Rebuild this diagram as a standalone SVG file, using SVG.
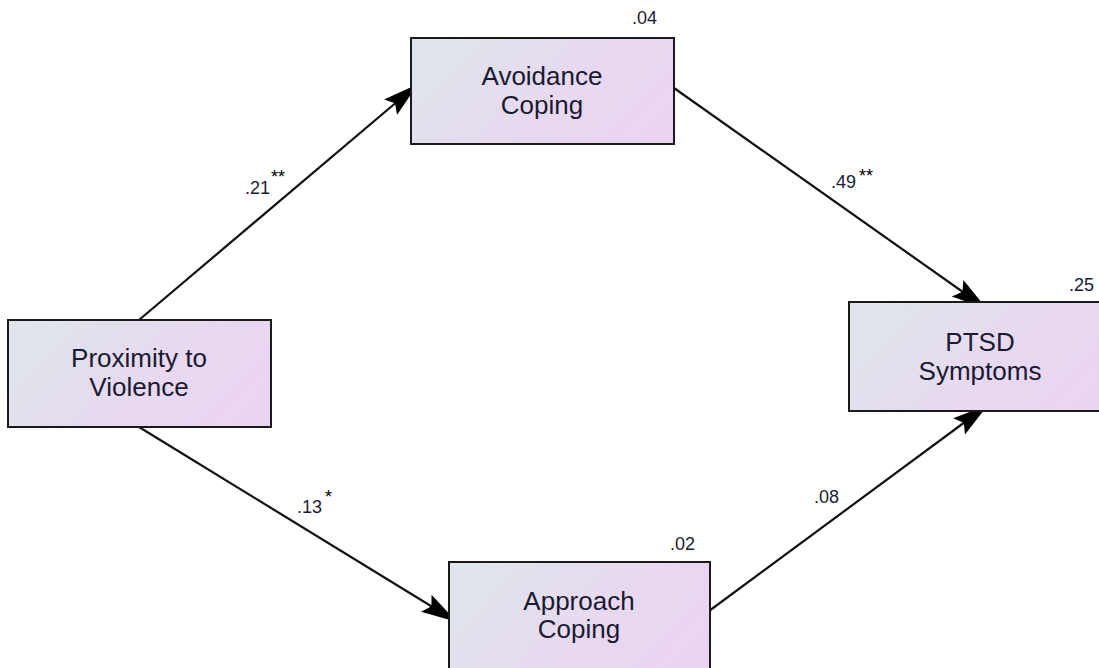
<svg xmlns="http://www.w3.org/2000/svg" width="1099" height="668" viewBox="0 0 1099 668">
<style>
.box{stroke:#1a1a1a;stroke-width:2;fill:url(#g)}
.lbl{font-family:"Liberation Sans",Arial,sans-serif;font-size:26px;fill:#1a1a33;text-anchor:middle}
.num{font-family:"Liberation Sans",Arial,sans-serif;font-size:18px;fill:#1a1a33}
.st{font-family:"Liberation Sans",Arial,sans-serif;font-size:18px;fill:#000}
.edge{stroke:#111;stroke-width:2.2;fill:none;marker-end:url(#ah)}
</style>
<defs>
<linearGradient id="g" x1="0" y1="0.3" x2="1" y2="0.7">
<stop offset="0" stop-color="#dfe5ea"/>
<stop offset="0.6" stop-color="#e8d8f0"/>
<stop offset="1" stop-color="#ead4f2"/>
</linearGradient>
<marker id="ah" markerUnits="userSpaceOnUse" markerWidth="38" markerHeight="24" refX="36" refY="12" orient="auto">
<path d="M0,2 L36,12 L0,22 L6,12 Z" fill="#000"/>
</marker>
</defs>
<rect width="1099" height="668" fill="#fff"/>
<g id="connectors">
<line class="edge" x1="139" y1="320" x2="418" y2="84"/>
<line class="edge" x1="674" y1="88" x2="987" y2="309"/>
<line class="edge" x1="139" y1="427" x2="457" y2="622"/>
<line class="edge" x1="709" y1="611" x2="988" y2="405"/>
<text class="num" x="245" y="194">.21</text><text class="st" x="271" y="183">**</text>
<text class="num" x="831" y="188">.49</text><text class="st" x="859" y="182">**</text>
<text class="num" x="297" y="513">.13</text><text class="st" x="325" y="503">*</text>
<text class="num" x="814" y="503">.08</text>
</g>
<g id="avoidance">
<rect class="box" x="411" y="38" width="263" height="106"/>
<text class="lbl" x="542" y="85">Avoidance</text>
<text class="lbl" x="542" y="114">Coping</text>
<text class="num" x="632" y="24">.04</text>
</g>
<g id="proximity">
<rect class="box" x="8" y="320" width="263" height="107"/>
<text class="lbl" x="139" y="367">Proximity to</text>
<text class="lbl" x="139" y="396">Violence</text>
</g>
<g id="ptsd">
<rect class="box" x="849" y="302" width="263" height="109"/>
<text class="lbl" x="980" y="351">PTSD</text>
<text class="lbl" x="980" y="380">Symptoms</text>
<text class="num" x="1069" y="291">.25</text>
</g>
<g id="approach">
<rect class="box" x="449" y="562" width="261" height="108"/>
<text class="lbl" x="579" y="610">Approach</text>
<text class="lbl" x="579" y="638">Coping</text>
<text class="num" x="670" y="550">.02</text>
</g>
</svg>
